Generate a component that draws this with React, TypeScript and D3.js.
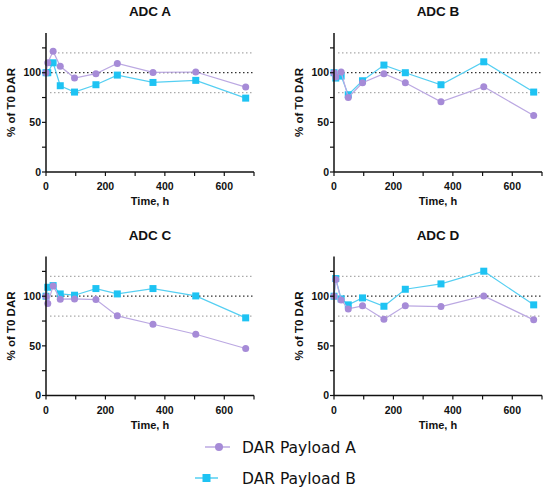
import React from 'react';
import * as d3 from 'd3';

const times = [0, 6, 24, 48, 96, 168, 240, 360, 504, 672];
const panelTitles = ['ADC A', 'ADC B', 'ADC C', 'ADC D'];
const payloadA = [
  [100, 110, 121.5, 106.5, 94.6, 99, 109.4, 100.3, 100.7, 85.5],
  [100, 95.6, 100.7, 75, 89.9, 99, 89.9, 70.7, 85.9, 56.9],
  [100, 92.6, 110.4, 97, 97.3, 96.6, 80.2, 71.8, 61.7, 47.3],
  [100, 116.8, 96.3, 87.2, 90.3, 76.8, 90.3, 89.6, 100.3, 76.2],
];
const payloadB = [
  [100, 100, 110, 86.9, 80.5, 87.9, 97.6, 90.2, 92.3, 74.4],
  [100, 94.6, 96.6, 77.8, 91.9, 107.7, 100, 87.9, 111, 80.5],
  [100, 109, 110.7, 102.3, 101, 107.7, 102.3, 107.7, 100.3, 78.2],
  [100, 117.8, 97.3, 91.3, 98.3, 89.9, 107, 112.4, 125.2, 91.3],
];
const refLines = [80, 100, 120];
const xTicks = [0, 200, 400, 600];
const xMinor = [100, 300, 500, 700];
const yTicks = [0, 50, 100];
const yMinor = [25, 75, 125];
const seriesNames = ['DAR Payload A', 'DAR Payload B'];

const purple = '#A68BD7';
const purpleLine = '#BBA8E2';
const blue = '#1EC3F3';
const blueLine = '#55CFF2';
const axisFont = 'Liberation Sans, Arial, sans-serif';

function Panel({ idx, left, top }: { idx: number; left: number; top: number }) {
  const w = 208;
  const h = 139;
  const x = d3.scaleLinear().domain([0, 700]).range([0, w]);
  const y = d3.scaleLinear().domain([0, 140]).range([h, 0]);
  const line = d3.line<number>().x((_, i) => x(times[i])).y(d => y(d));

  return (
    <g transform={`translate(${left},${top})`}>
      <text x={w / 2} y={-17} textAnchor="middle" fontFamily={axisFont} fontWeight="bold" fontSize={13.5} fill="#111">
        {panelTitles[idx]}
      </text>
      {refLines.map(v => (
        <line key={v} x1={v === 100 ? 1 : 4} x2={w} y1={y(v)} y2={y(v)}
          stroke={v === 100 ? '#333' : '#aaa'} strokeWidth={1.3} strokeDasharray="1.5,2.5" />
      ))}
      <path d={line(payloadB[idx]) ?? ''} fill="none" stroke={blueLine} strokeWidth={1.2} />
      {payloadB[idx].map((v, i) => (
        <rect key={i} x={x(times[i]) - 3.5} y={y(v) - 3.5} width={7} height={7} fill={blue} />
      ))}
      <path d={line(payloadA[idx]) ?? ''} fill="none" stroke={purpleLine} strokeWidth={1.2} />
      {payloadA[idx].map((v, i) => (
        <circle key={i} cx={x(times[i])} cy={y(v)} r={3.5} fill={purple} />
      ))}
      {/* axes */}
      <line x1={0} x2={0} y1={0} y2={h} stroke="#111" strokeWidth={1.5} />
      <line x1={0} x2={w} y1={h} y2={h} stroke="#111" strokeWidth={1.5} />
      {yTicks.concat(yMinor).map(v => (
        <line key={v} x1={-4} x2={0} y1={y(v)} y2={y(v)} stroke="#111" strokeWidth={1.2} />
      ))}
      {yTicks.map(v => (
        <text key={v} x={-5} y={y(v)} dy="0.35em" textAnchor="end" fontFamily={axisFont} fontWeight="bold" fontSize={10.5} fill="#111">{v}</text>
      ))}
      {xTicks.concat(xMinor).map(v => (
        <line key={v} x1={x(v)} x2={x(v)} y1={h} y2={h + 4} stroke="#111" strokeWidth={1.2} />
      ))}
      {xTicks.map(v => (
        <text key={v} x={x(v)} y={h + 18} textAnchor="middle" fontFamily={axisFont} fontWeight="bold" fontSize={10.5} fill="#111">{v}</text>
      ))}
      <text x={w / 2} y={h + 33} textAnchor="middle" fontFamily={axisFont} fontWeight="bold" fontSize={11} fill="#111">Time, h</text>
      <text transform={`translate(-31,${h / 2}) rotate(-90)`} textAnchor="middle" fontFamily={axisFont} fontWeight="bold" fontSize={11.5} fill="#111">% of T0 DAR</text>
    </g>
  );
}

export default function App() {
  const positions = [
    [46, 33],
    [334, 33],
    [46, 256.5],
    [334, 256.5],
  ];
  return (
    <div style={{ position: 'absolute', left: 0, top: 0 }}>
      <svg width={550} height={496} style={{ display: 'block', background: '#fff' }}>
        {positions.map((p, i) => (
          <Panel key={i} idx={i} left={p[0]} top={p[1]} />
        ))}
        <g>
          <line x1={205} x2={230} y1={447} y2={447} stroke={purpleLine} strokeWidth={1.5} />
          <circle cx={219} cy={447} r={4} fill={purple} />
          <text x={242} y={453} fontFamily="DejaVu Sans, sans-serif" fontSize={15.5} fill="#111">{seriesNames[0]}</text>
          <line x1={195} x2={218} y1={478} y2={478} stroke={blueLine} strokeWidth={1.5} />
          <rect x={202.5} y={474} width={8} height={8} fill={blue} />
          <text x={242} y={484} fontFamily="DejaVu Sans, sans-serif" fontSize={15.5} fill="#111">{seriesNames[1]}</text>
        </g>
      </svg>
    </div>
  );
}
